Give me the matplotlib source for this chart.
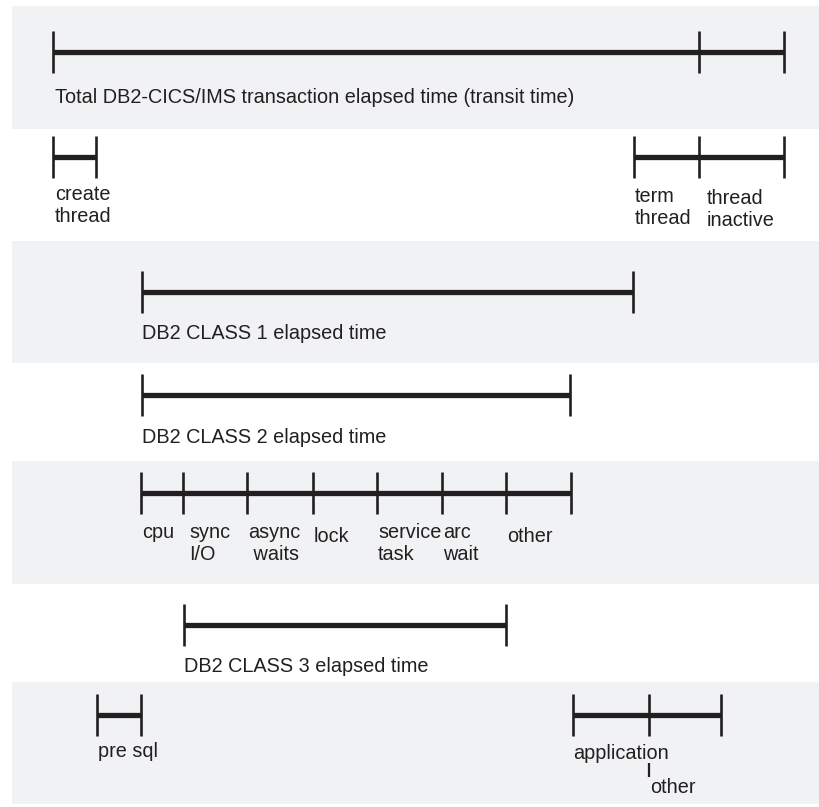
import matplotlib
matplotlib.use("Agg")
import matplotlib.pyplot as plt

# Time boundaries (arbitrary units; 0 = transaction start)
transit_bounds = [0, 646, 731]
create_thread_bounds = [0, 43]
term_bounds = [581, 646, 731]
class1_bounds = [89, 580]
class2_bounds = [89, 517]
class2_parts = [88, 130, 194, 260, 324, 389, 453, 518]
class3_bounds = [131, 453]
presql_bounds = [44, 88]
app_bounds = [520, 596, 668]

# Labels
transit_label = "Total DB2-CICS/IMS transaction elapsed time (transit time)"
create_label = "create\nthread"
term_labels = ["term\nthread", "thread\ninactive"]
class1_label = "DB2 CLASS 1 elapsed time"
class2_label = "DB2 CLASS 2 elapsed time"
class2_part_labels = ["cpu", "sync\nI/O", "async\n waits", "lock",
                      "service\ntask", "arc\nwait", "other"]
class3_label = "DB2 CLASS 3 elapsed time"
presql_label = "pre sql"
app_labels = ["application", "other"]

# layout (figure pixels)
INK = "#231f20"
GRAY = "#f1f2f4"
FONT = dict(family="Liberation Sans", size=14.3, color=INK)
row_y = [52, 157, 292, 395, 493, 625, 715]
bands = [(6, 129), (241, 363), (461, 584), (682, 804)]

fig = plt.figure(figsize=(8.19, 8.07), dpi=100)
ax = fig.add_axes([0, 0, 1, 1])
ax.set_xlim(-53, 766)
ax.set_ylim(807, 0)
ax.axis("off")

for top, bottom in bands:
    ax.axhspan(top, bottom, xmin=12 / 819, xmax=1, color=GRAY, lw=0, zorder=0)


def draw_span(bounds, y, half=21):
    ax.plot([bounds[0], bounds[-1]], [y, y], color=INK, lw=3.8,
            solid_capstyle="butt", zorder=2)
    ax.vlines(bounds, y - half, y + half, color=INK, lw=1.9, zorder=3)


def label(x, baseline, text, dx=2, step=21.5):
    for i, line in enumerate(text.split("\n")):
        ax.text(x + dx, baseline + i * step, line, ha="left", va="baseline",
                **FONT)


# row 1: transit time
draw_span(transit_bounds, row_y[0])
label(transit_bounds[0], 103, transit_label)

# row 2: thread create / terminate
draw_span(create_thread_bounds, row_y[1])
label(create_thread_bounds[0], 200, create_label)
draw_span(term_bounds, row_y[1])
label(term_bounds[0], 202, term_labels[0], dx=1)
label(term_bounds[1], 204, term_labels[1], dx=8)

# row 3: class 1
draw_span(class1_bounds, row_y[2])
label(class1_bounds[0], 339, class1_label, dx=0)

# row 4: class 2
draw_span(class2_bounds, row_y[3])
label(class2_bounds[0], 443, class2_label, dx=0)

# row 5: class 2 breakdown
draw_span(class2_parts, row_y[4])
for i, txt in enumerate(class2_part_labels):
    dx = 6 if txt.startswith("sync") else 1
    base = 542 if "\n" not in txt and txt != "cpu" else 538
    label(class2_parts[i], base, txt, dx=dx)

# row 6: class 3
draw_span(class3_bounds, row_y[5])
label(class3_bounds[0], 672, class3_label, dx=0)

# row 7: pre sql / application / other
draw_span(presql_bounds, row_y[6])
label(presql_bounds[0], 757, presql_label, dx=1)
draw_span(app_bounds, row_y[6])
label(app_bounds[0], 759, app_labels[0], dx=0)
ax.vlines(app_bounds[1], 763, 777, color=INK, lw=1.6)
label(app_bounds[1], 793, app_labels[1], dx=1)

fig.savefig("out.png", dpi=100, facecolor="white")
